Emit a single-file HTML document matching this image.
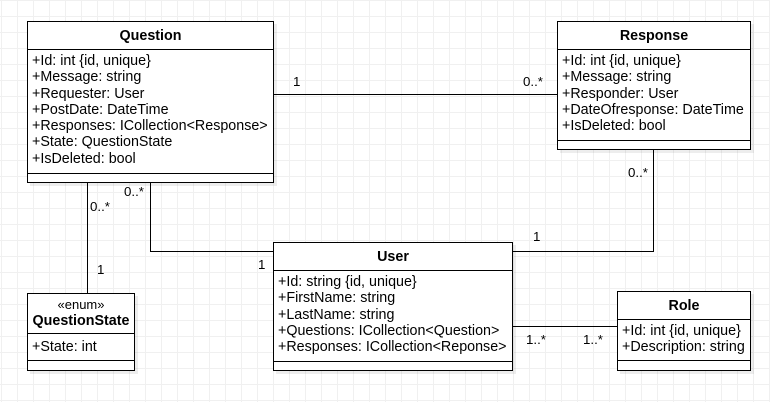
<!DOCTYPE html>
<html><head><meta charset="utf-8"><style>
body{margin:0;width:770px;height:402px;overflow:hidden;background:#fff;
background-image:linear-gradient(#f0f0f0 1px,transparent 1px),linear-gradient(90deg,#f0f0f0 1px,transparent 1px);
background-size:16px 16px;background-position:0 0,1px 0;
font-family:"Liberation Sans",Arial,sans-serif;font-size:14.3px;color:#000;position:relative}
.b{position:absolute;border:1px solid #000;background:#fff;box-sizing:border-box;box-shadow:3px 3px 0 rgba(0,0,0,0.07)}
.h{position:absolute;left:0;right:0;border-bottom:1px solid #000;text-align:center;font-weight:bold;font-size:14.3px}
.a{position:absolute;left:0;right:0;border-bottom:1px solid #000;box-sizing:border-box}
.a div{height:16.3px;line-height:16.3px;padding-left:4px;white-space:nowrap}
.l{position:absolute;background:#000}
.t{position:absolute;font-size:13.3px;line-height:14px}
</style></head><body>
<div class="l" style="left:273px;top:94px;width:285px;height:1px"></div>
<div class="l" style="left:653px;top:149px;width:1px;height:103px"></div>
<div class="l" style="left:512px;top:251px;width:142px;height:1px"></div>
<div class="l" style="left:150px;top:182px;width:1px;height:70px"></div>
<div class="l" style="left:150px;top:251px;width:123px;height:1px"></div>
<div class="l" style="left:87px;top:182px;width:1px;height:111px"></div>
<div class="l" style="left:512px;top:326px;width:105px;height:1px"></div>

<div class="b" style="left:27px;top:21px;width:247px;height:162px">
<div class="h" style="top:0;height:27px;line-height:29px">Question</div>
<div class="a" style="top:28px;height:124px;padding-top:3px">
<div>+Id: int {id, unique}</div><div>+Message: string</div><div>+Requester: User</div><div>+PostDate: DateTime</div><div>+Responses: ICollection&lt;Response&gt;</div><div>+State: QuestionState</div><div>+IsDeleted: bool</div></div>
</div>

<div class="b" style="left:557px;top:21px;width:194px;height:129px">
<div class="h" style="top:0;height:27px;line-height:29px">Response</div>
<div class="a" style="top:28px;height:91px;padding-top:3px">
<div>+Id: int {id, unique}</div><div>+Message: string</div><div>+Responder: User</div><div>+DateOfresponse: DateTime</div><div>+IsDeleted: bool</div></div>
</div>

<div class="b" style="left:273px;top:242px;width:240px;height:129px">
<div class="h" style="top:0;height:27px;line-height:29px">User</div>
<div class="a" style="top:28px;height:91px;padding-top:3px">
<div>+Id: string {id, unique}</div><div>+FirstName: string</div><div>+LastName: string</div><div>+Questions: ICollection&lt;Question&gt;</div><div>+Responses: ICollection&lt;Reponse&gt;</div></div>
</div>

<div class="b" style="left:617px;top:291px;width:134px;height:80px">
<div class="h" style="top:0;height:27px;line-height:29px">Role</div>
<div class="a" style="top:28px;height:41px;padding-top:3px">
<div>+Id: int {id, unique}</div><div>+Description: string</div></div>
</div>

<div class="b" style="left:27px;top:293px;width:108px;height:78px">
<div class="h" style="top:0;height:39px"><div style="font-weight:normal;font-size:13px;margin-top:4px;line-height:14px">«enum»</div><div style="line-height:18px">QuestionState</div></div>
<div class="a" style="top:40px;height:27px;padding-top:5px"><div>+State: int</div></div>
</div>

<div class="t" style="left:293px;top:75px">1</div>
<div class="t" style="left:523px;top:75px">0..*</div>
<div class="t" style="left:628px;top:166px">0..*</div>
<div class="t" style="left:533px;top:230px">1</div>
<div class="t" style="left:124px;top:185px">0..*</div>
<div class="t" style="left:258px;top:258px">1</div>
<div class="t" style="left:90px;top:200px">0..*</div>
<div class="t" style="left:97px;top:263px">1</div>
<div class="t" style="left:526px;top:333px">1..*</div>
<div class="t" style="left:583px;top:333px">1..*</div>
</body></html>
